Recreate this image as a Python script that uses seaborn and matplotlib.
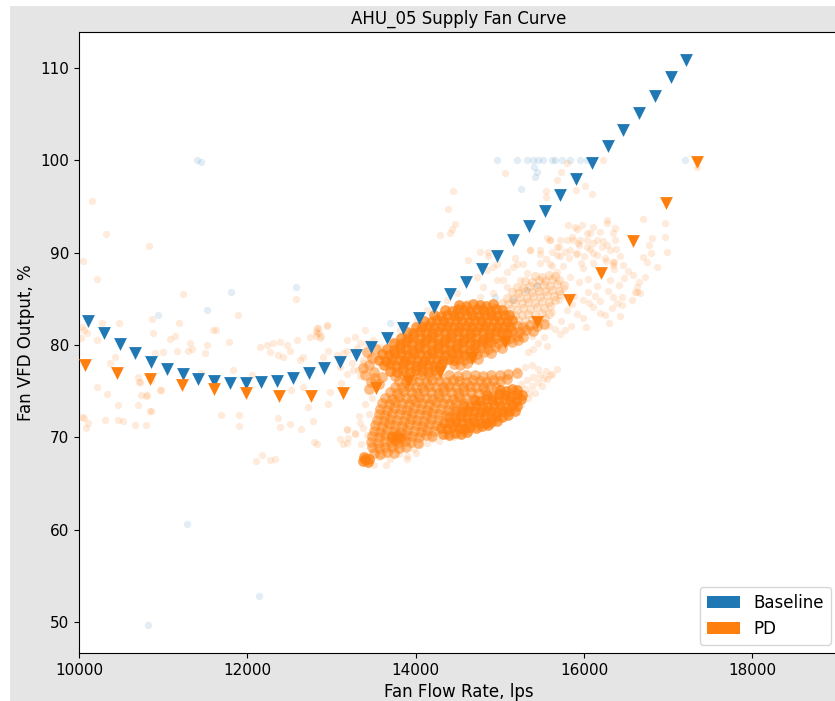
import matplotlib
matplotlib.use("Agg")
import matplotlib.pyplot as plt
from matplotlib.patches import Patch, Rectangle
import pandas as pd
import seaborn as sns

plt.rcParams['font.family'] = ['DejaVu Sans']

BLUE = "#1f77b4"
ORANGE = "#ff7f0e"

# fitted fan curves (triangles)
baseline_curve_flow = [10110, 10297, 10484, 10671, 10858, 11045, 11232, 11419, 11606, 11793,
                       11979, 12166, 12353, 12540, 12727, 12914, 13101, 13288, 13475, 13662,
                       13849, 14036, 14223, 14410, 14597, 14784, 14971, 15158, 15345, 15532,
                       15719, 15906, 16093, 16280, 16467, 16654, 16841, 17028, 17215]
baseline_curve_vfd = [82.63, 81.33, 80.07, 79.10, 78.13, 77.37, 76.86, 76.32, 76.10, 75.85,
                      75.85, 75.99, 76.10, 76.46, 77.00, 77.48, 78.19, 78.92, 79.81, 80.79,
                      81.81, 82.89, 84.15, 85.52, 86.86, 88.20, 89.64, 91.37, 92.92, 94.54,
                      96.25, 97.98, 99.74, 101.6, 103.28, 105.16, 107.0, 108.99, 110.87]
pd_curve_flow = [10071, 10455, 10838, 11222, 11605, 11989, 12372, 12756, 13139, 13523,
                 13906, 14290, 14673, 15057, 15440, 15824, 16200, 16585, 16970, 17345]
pd_curve_vfd = [77.83, 76.93, 76.32, 75.67, 75.20, 74.77, 74.51, 74.51, 74.80, 75.31,
                76.10, 77.11, 78.55, 80.36, 82.46, 84.87, 87.85, 91.30, 95.35, 99.85]

# baseline measured points
baseline_points = [
    (11402, 100.0), (11450, 99.8), (11806, 85.7), (12578, 86.3), (11520, 83.8), (10939, 83.2),
    (11283, 60.6), (12138, 52.8), (10820, 49.7),
    (14962, 100.0), (15207, 100.0), (15318, 100.0), (15397, 100.0), (15457, 100.0), (15516, 100.0),
    (15616, 100.0), (15655, 100.0), (15735, 100.0), (15833, 100.0), (15952, 100.0), (16031, 100.0),
    (17199, 100.0), (15409, 99.3), (15445, 98.7), (15417, 98.2), (15247, 96.9),
    (13695, 82.4), (14487, 83.6), (14740, 83.8), (14942, 85.2), (15160, 84.9), (15318, 86.0), (15437, 86.5),
]

# PD measured points: scattered / light areas
pd_sparse_points = [
    (10154, 95.6), (10321, 92.0), (10048, 89.1), (10214, 87.1), (10832, 90.7), (11235, 85.5), (10867, 82.8),
    (10475, 82.4), (10273, 82.4), (11188, 82.4), (11889, 83.2), (12578, 85.0), (12946, 82.1), (12827, 81.8),
    (10214, 75.4), (10333, 74.7), (10713, 76.0), (10737, 74.6), (10796, 74.5), (10974, 75.1), (10463, 73.5),
    (10701, 73.5), (10855, 72.8), (10059, 72.1), (10107, 71.5), (10083, 71.0), (10309, 71.9), (10463, 71.9),
    (10523, 71.8), (10665, 71.3), (10796, 71.3), (11687, 72.4), (11901, 72.4), (11901, 71.2), (12364, 72.1),
    (12388, 71.1), (12507, 71.4), (12637, 70.9), (12780, 71.8), (12720, 73.3), (12958, 73.6), (12982, 74.9),
    (12519, 75.1), (12661, 75.4), (13113, 75.9), (12792, 69.5), (12827, 69.3), (12103, 67.4), (12174, 68.1),
    (12269, 67.5), (12328, 67.6), (13101, 69.8), (13184, 69.4), (13196, 69.9), (13279, 70.5), (13184, 70.9),
    (11628, 81.6), (11592, 81.6), (10879, 81.3), (10095, 81.3), (10214, 80.5), (11782, 80.3), (11081, 80.7),
    (11140, 81.0), (11319, 80.2), (11342, 79.6), (11520, 80.0), (11497, 79.1), (11295, 79.4), (10998, 79.2),
    (10903, 79.1), (11164, 79.3), (10428, 78.7), (10368, 78.1), (10701, 76.5), (10725, 76.0), (10855, 76.2),
    (10808, 74.6), (10962, 75.1), (10843, 72.9), (10030, 82.0), (10060, 81.6), (10020, 80.8), (10030, 72.2),
    (11830, 77.3), (12050, 76.8), (11450, 77.0),
    (12233, 80.0), (12305, 80.2), (12388, 80.3), (12471, 80.0), (12269, 79.2), (12364, 78.9), (12507, 79.4),
    (12423, 78.7), (12150, 79.8), (12590, 80.5), (12661, 78.7), (12827, 81.3), (12839, 81.8), (12946, 82.2),
    (12744, 80.9), (12625, 78.4), (12899, 78.7), (12958, 79.4), (13065, 78.9), (13137, 79.1), (13184, 79.4),
    (13303, 79.7), (13338, 80.2), (13398, 81.6), (13422, 80.2), (13374, 78.4), (13243, 78.0), (13101, 77.6),
    (13315, 77.3), (12810, 81.0), (12850, 81.3), (12870, 81.0), (12820, 81.5), (12860, 80.8),
    (14443, 96.7), (14384, 94.7), (14467, 93.1), (14431, 92.6), (14407, 92.1), (14289, 91.9), (15061, 98.6),
    (15679, 97.9), (15548, 96.7), (15548, 96.0), (15904, 96.8), (16011, 97.2), (16094, 96.3), (15797, 99.7),
    (15726, 98.7), (16225, 100.0), (17342, 99.3),
    (14625, 89.2), (14764, 90.1), (14863, 90.1), (14962, 88.8), (15081, 87.9), (15200, 88.8), (15279, 88.8),
    (15358, 90.3), (15477, 89.9), (15596, 91.4), (15714, 91.4), (15873, 91.4), (16031, 92.1), (16110, 91.0),
    (14606, 84.6), (14764, 85.2), (14922, 85.6), (14803, 86.3), (14962, 87.0), (15081, 86.3), (15239, 87.0),
    (15318, 87.8), (15160, 88.5), (14843, 88.1), (14724, 87.4), (14487, 85.6), (14368, 84.9), (14131, 83.8),
    (14012, 82.7), (13813, 81.6), (13695, 80.5), (13576, 79.8), (13457, 78.7), (13378, 78.0), (13259, 77.3),
    (13180, 76.9), (13338, 76.6), (13180, 80.5), (13279, 80.9), (13493, 80.5),
    (15556, 91.6), (15180, 89.4), (14922, 88.5), (14863, 89.6), (15041, 87.0), (15596, 88.8), (15714, 89.6),
    (15833, 90.3), (15952, 91.4), (16110, 92.8), (16269, 93.2), (15913, 92.6), (15813, 93.0),
    (16700, 93.6), (16961, 93.2), (16961, 91.7), (16985, 90.1), (16866, 88.4), (16807, 91.6), (16772, 90.8),
    (16700, 89.5), (16795, 90.0), (16748, 89.0), (16724, 87.4), (16653, 86.8), (16629, 85.7), (16665, 85.6),
    (16570, 84.9), (16463, 88.7), (16356, 89.0), (16344, 88.7), (16284, 85.9), (16344, 85.2), (16451, 85.2),
    (16392, 84.5), (16451, 84.3), (16427, 83.1), (16332, 84.0), (16189, 83.5), (16106, 84.1), (16047, 85.7),
    (15988, 84.9), (16605, 85.7), (16629, 86.3), (16273, 93.5), (16368, 92.7), (16344, 92.1), (16368, 91.4),
    (16273, 90.8), (15893, 92.8), (15976, 93.0), (16071, 92.1), (16189, 92.2), (16154, 91.4), (16035, 91.4),
    (15928, 91.0), (15797, 91.4), (15679, 90.6), (15595, 91.4), (15476, 90.3), (15357, 90.3), (15679, 89.8),
    (15774, 90.1), (15916, 90.0), (16035, 90.6), (16106, 90.0), (16213, 90.6), (16308, 90.3), (16249, 89.4),
    (16344, 89.0),
    (15620, 83.6), (15700, 84.9), (15760, 86.2), (15830, 87.4), (15880, 85.3), (15940, 86.8), (15990, 88.3),
    (16050, 87.1), (16110, 88.9), (16150, 86.4), (16200, 87.8), (16260, 89.1), (16310, 87.0), (16360, 88.2),
    (16420, 86.5), (16480, 87.3), (15680, 87.9), (15750, 88.6), (15820, 89.4), (15900, 89.9), (15960, 88.9),
    (15730, 82.6), (15800, 83.8), (15860, 84.4), (15920, 83.4), (15990, 82.9), (16060, 84.6), (16130, 85.3),
    (16190, 84.8), (15580, 82.1), (15650, 81.7), (15710, 81.2), (15520, 80.9), (15450, 80.2), (15380, 81.0),
    (15620, 88.6), (15550, 89.3), (15480, 88.9), (15700, 90.6), (15620, 90.1), (16000, 89.6), (16070, 90.4),
    (16150, 89.8), (15860, 91.7), (15940, 90.8), (16230, 91.3), (16380, 90.4), (16430, 89.6), (16520, 88.0),
    (16580, 87.6), (15770, 81.6), (15850, 82.1), (16020, 81.9), (16250, 83.2), (16300, 82.4), (15400, 79.6),
    (15330, 79.2), (15560, 79.9),
    (13350, 69.3), (13420, 70.2), (13380, 71.0), (13450, 72.5), (13400, 73.6), (13480, 74.3), (13330, 72.3),
    (13560, 67.9), (13620, 68.1), (13700, 67.7), (13800, 68.2), (13900, 68.0), (13980, 68.7), (14050, 69.2),
    (14130, 69.4), (14200, 69.8), (14280, 69.6), (14380, 70.2), (14450, 70.0), (14550, 70.4), (14650, 70.7),
    (14750, 70.9), (14850, 71.5), (14950, 71.9), (15050, 72.3), (15150, 72.9), (15250, 73.5), (15330, 74.3),
    (15420, 74.8), (15500, 75.6), (15560, 76.3), (15620, 76.9), (15680, 77.4), (15450, 77.4), (15380, 77.8),
    (15300, 77.6), (15200, 77.3), (13900, 67.6), (14000, 68.3), (13650, 67.0), (13500, 67.0), (13180, 70.8),
    (13279, 70.4), (13338, 71.5), (13140, 69.3),
    (15250, 75.8), (15320, 76.2), (15400, 76.5), (15480, 76.8), (15550, 77.2), (15300, 75.2), (15380, 75.6),
    (15450, 76.0), (15520, 76.4), (15600, 76.8), (15350, 74.8),
]

# PD measured points: upper band's right extension (moderate density)
pd_halo_points = [
    (15220, 82.7), (15300, 82.6), (15380, 82.8), (15460, 82.7), (15540, 82.9),
    (15180, 83.3), (15260, 83.2), (15340, 83.4), (15420, 83.3), (15500, 83.5), (15580, 83.4),
    (15120, 83.9), (15200, 83.8), (15280, 84.0), (15360, 83.9), (15440, 84.1), (15520, 84.0), (15600, 84.2),
    (15020, 84.5), (15100, 84.4), (15180, 84.6), (15260, 84.5), (15340, 84.7), (15420, 84.6), (15500, 84.8),
    (15580, 84.7), (15660, 84.9),
    (15080, 85.1), (15160, 85.0), (15240, 85.2), (15320, 85.1), (15400, 85.3), (15480, 85.2), (15560, 85.4),
    (15640, 85.3), (15720, 85.5),
    (15140, 85.7), (15220, 85.6), (15300, 85.8), (15380, 85.7), (15460, 85.9), (15540, 85.8), (15620, 86.0), (15700, 85.9),
    (15200, 86.3), (15280, 86.2), (15360, 86.4), (15440, 86.3), (15520, 86.5), (15600, 86.4), (15680, 86.6), (15760, 86.5),
    (15300, 86.9), (15380, 86.8), (15460, 87.0), (15540, 86.9), (15620, 87.1), (15700, 87.0),
    (15420, 87.5), (15500, 87.4), (15580, 87.6), (15660, 87.5),
]

# PD measured points: dense (but not saturated) parts of the two bands
pd_mid_points = [
    (13420, 79.2), (13480, 78.6), (13450, 77.8), (13500, 77.1), (13520, 76.4), (13470, 76.0), (13560, 75.8),
    (13600, 76.5), (13530, 79.6), (13400, 76.8), (13440, 75.2), (13380, 77.5),
    (13500, 68.3), (13580, 68.2), (13660, 68.4), (13740, 68.3),
    (13480, 68.9), (13560, 68.8), (13640, 69.0), (13720, 68.9), (13800, 68.8), (13880, 69.0),
    (13470, 69.5), (13550, 69.4), (13630, 69.6), (13710, 69.5), (13790, 69.4), (13870, 69.6), (13950, 69.5), (14030, 69.4),
    (13480, 70.1), (13560, 70.0), (13640, 70.2), (13720, 70.1), (13800, 70.0), (13880, 70.2), (13960, 70.1),
    (14040, 70.0), (14120, 70.2), (14200, 70.1),
    (13500, 70.7), (13580, 70.6), (13660, 70.8), (13740, 70.7), (13820, 70.6), (13900, 70.8), (13980, 70.7),
    (14060, 70.6), (14140, 70.8), (14220, 70.7),
    (13520, 71.3), (13600, 71.2), (13680, 71.4), (13760, 71.3), (13840, 71.2), (13920, 71.4), (14000, 71.3),
    (14080, 71.2), (14160, 71.4), (14240, 71.3),
    (13540, 71.9), (13620, 71.8), (13700, 72.0), (13780, 71.9), (13860, 71.8), (13940, 72.0), (14020, 71.9),
    (14100, 71.8), (14180, 72.0), (14260, 71.9),
    (13560, 72.5), (13640, 72.4), (13720, 72.6), (13800, 72.5), (13880, 72.4), (13960, 72.6), (14040, 72.5),
    (14120, 72.4), (14200, 72.6), (14280, 72.5), (14360, 72.4),
    (13580, 73.1), (13660, 73.0), (13740, 73.2), (13820, 73.1), (13900, 73.0), (13980, 73.2), (14060, 73.1),
    (14140, 73.0), (14220, 73.2), (14300, 73.1), (14380, 73.0), (14460, 73.2),
    (13600, 73.7), (13680, 73.6), (13760, 73.8), (13840, 73.7), (13920, 73.6), (14000, 73.8), (14080, 73.7),
    (14160, 73.6), (14240, 73.8), (14320, 73.7), (14400, 73.6), (14480, 73.8), (14560, 73.7),
    (13640, 74.3), (13720, 74.2), (13800, 74.4), (13880, 74.3), (13960, 74.2), (14040, 74.4), (14120, 74.3),
    (14200, 74.2), (14280, 74.4), (14360, 74.3), (14440, 74.2), (14520, 74.4), (14600, 74.3), (14680, 74.2),
    (13700, 74.9), (13780, 74.8), (13860, 75.0), (13940, 74.9), (14020, 74.8), (14100, 75.0), (14180, 74.9),
    (14260, 74.8), (14340, 75.0), (14420, 74.9), (14500, 74.8), (14580, 75.0), (14660, 74.9), (14740, 74.8), (14820, 75.0),
    (13760, 75.5), (13840, 75.4), (13920, 75.6), (14000, 75.5), (14080, 75.4), (14160, 75.6), (14240, 75.5),
    (14320, 75.4), (14400, 75.6), (14480, 75.5), (14560, 75.4), (14640, 75.6), (14720, 75.5), (14800, 75.4),
    (14880, 75.6), (14960, 75.5),
    (13800, 76.1), (13880, 76.0), (13960, 76.2), (14040, 76.1), (14120, 76.0), (14200, 76.2), (14280, 76.1),
    (14360, 76.0), (14440, 76.2), (14520, 76.1), (14600, 76.0), (14680, 76.2), (14760, 76.1), (14840, 76.0),
    (14920, 76.2), (15000, 76.1), (15080, 76.3),
    (13760, 76.6), (13860, 76.7), (13960, 76.6), (14060, 76.7), (14160, 76.6), (14260, 76.7),
    (14400, 76.7), (14500, 76.6), (14600, 76.8), (14700, 76.7), (14800, 76.6), (14900, 76.8), (15000, 76.7),
    (15100, 76.9), (15200, 77.0),
    (14450, 77.9), (14530, 77.8), (14610, 78.0),
    (14500, 78.5), (14580, 78.4), (14660, 78.6), (14740, 78.5),
    (14650, 79.1), (14730, 79.0), (14810, 79.2), (14890, 79.1),
    (14780, 79.7), (14860, 79.6), (14940, 79.8), (15020, 79.7),
    (14900, 80.3), (14980, 80.2), (15060, 80.4), (15140, 80.3), (15220, 80.5),
    (15040, 80.9), (15120, 80.8), (15200, 81.0), (15280, 80.9),
    (15150, 81.5), (15230, 81.4), (15310, 81.6), (15390, 81.5),
    (15200, 82.1), (15280, 82.0), (15360, 82.2), (15440, 82.1), (15520, 82.3),
]

# PD measured points: saturated cores of the two bands
pd_core_points = [
    (13700, 77.2), (13780, 77.1), (13850, 77.3), (13930, 77.1), (14000, 77.3), (14080, 77.2), (14150, 77.1), (14230, 77.3),
    (13620, 77.8), (13700, 77.9), (13770, 77.7), (13850, 77.9), (13920, 77.8), (14000, 77.7), (14070, 77.9),
    (14150, 77.8), (14220, 77.7), (14300, 77.9),
    (13570, 78.4), (13650, 78.3), (13720, 78.5), (13800, 78.4), (13870, 78.3), (13950, 78.5), (14020, 78.4),
    (14100, 78.3), (14170, 78.5), (14250, 78.4), (14320, 78.3), (14400, 78.5), (14450, 78.4),
    (13600, 79.0), (13680, 78.9), (13750, 79.1), (13830, 79.0), (13900, 78.9), (13980, 79.1), (14050, 79.0),
    (14130, 78.9), (14200, 79.1), (14280, 79.0), (14350, 78.9), (14430, 79.1), (14500, 79.0), (14580, 78.9),
    (13660, 79.6), (13740, 79.5), (13810, 79.7), (13890, 79.6), (13960, 79.5), (14040, 79.7), (14110, 79.6),
    (14190, 79.5), (14260, 79.7), (14340, 79.6), (14410, 79.5), (14490, 79.7), (14560, 79.6), (14640, 79.5), (14710, 79.7),
    (13740, 80.2), (13810, 80.1), (13890, 80.3), (13960, 80.2), (14040, 80.1), (14110, 80.3), (14190, 80.2),
    (14260, 80.1), (14340, 80.3), (14410, 80.2), (14490, 80.1), (14560, 80.3), (14640, 80.2), (14710, 80.1),
    (14790, 80.3), (14850, 80.2),
    (13820, 80.8), (13900, 80.7), (13970, 80.9), (14050, 80.8), (14120, 80.7), (14200, 80.9), (14270, 80.8),
    (14350, 80.7), (14420, 80.9), (14500, 80.8), (14570, 80.7), (14650, 80.9), (14720, 80.8), (14800, 80.7),
    (14870, 80.9), (14950, 80.8),
    (13900, 81.4), (13970, 81.3), (14050, 81.5), (14120, 81.4), (14200, 81.3), (14270, 81.5), (14350, 81.4),
    (14420, 81.3), (14500, 81.5), (14570, 81.4), (14650, 81.3), (14720, 81.5), (14800, 81.4), (14870, 81.3),
    (14950, 81.5), (15020, 81.4), (15080, 81.3),
    (14000, 82.0), (14070, 81.9), (14150, 82.1), (14220, 82.0), (14300, 81.9), (14370, 82.1), (14450, 82.0),
    (14520, 81.9), (14600, 82.1), (14670, 82.0), (14750, 81.9), (14820, 82.1), (14900, 82.0), (14970, 81.9),
    (15050, 82.1), (15120, 82.0),
    (14100, 82.6), (14180, 82.5), (14250, 82.7), (14330, 82.6), (14400, 82.5), (14480, 82.7), (14550, 82.6),
    (14630, 82.5), (14700, 82.7), (14780, 82.6), (14850, 82.5), (14930, 82.7), (15000, 82.6), (15080, 82.5), (15140, 82.7),
    (14220, 83.2), (14300, 83.1), (14370, 83.3), (14450, 83.2), (14520, 83.1), (14600, 83.3), (14670, 83.2),
    (14750, 83.1), (14820, 83.3), (14900, 83.2), (14970, 83.1), (15050, 83.3), (15110, 83.2),
    (14350, 83.8), (14430, 83.7), (14500, 83.9), (14580, 83.8), (14650, 83.7), (14730, 83.9), (14800, 83.8),
    (14880, 83.7), (14950, 83.9), (15030, 83.8),
    (14520, 84.3), (14600, 84.2), (14680, 84.4), (14760, 84.3), (14840, 84.2), (14920, 84.4),
    (14330, 70.4), (14400, 70.3), (14470, 70.5), (14540, 70.4), (14610, 70.6),
    (14300, 71.0), (14370, 70.9), (14440, 71.1), (14510, 71.0), (14580, 70.9), (14650, 71.1), (14720, 71.0),
    (14790, 71.2), (14860, 71.3),
    (14340, 71.6), (14410, 71.5), (14480, 71.7), (14550, 71.6), (14620, 71.5), (14690, 71.7), (14760, 71.6),
    (14830, 71.5), (14900, 71.7), (14970, 71.8),
    (14400, 72.2), (14470, 72.1), (14540, 72.3), (14610, 72.2), (14680, 72.1), (14750, 72.3), (14820, 72.2),
    (14890, 72.1), (14960, 72.3), (15030, 72.2), (15100, 72.4),
    (14480, 72.8), (14550, 72.7), (14620, 72.9), (14690, 72.8), (14760, 72.7), (14830, 72.9), (14900, 72.8),
    (14970, 72.7), (15040, 72.9), (15110, 72.8), (15180, 72.9),
    (14580, 73.4), (14650, 73.3), (14720, 73.5), (14790, 73.4), (14860, 73.3), (14930, 73.5), (15000, 73.4),
    (15070, 73.3), (15140, 73.5), (15210, 73.4),
    (14700, 74.0), (14770, 73.9), (14840, 74.1), (14910, 74.0), (14980, 73.9), (15050, 74.1), (15120, 74.0),
    (15190, 73.9), (15250, 74.1),
    (14850, 74.6), (14920, 74.5), (14990, 74.7), (15060, 74.6), (15130, 74.5), (15200, 74.7), (15260, 74.6),
    (15000, 75.1), (15070, 75.0), (15140, 75.2), (15210, 75.1),
    (13370, 67.4), (13400, 67.6), (13430, 67.3), (13390, 67.9), (13450, 67.7),
    (13720, 70.0), (13780, 70.3), (13830, 69.9), (13760, 69.7),
]


def frame(points):
    return pd.DataFrame(points, columns=["flow", "vfd"])


fig = plt.figure(figsize=(8.35, 7.01), dpi=100)
fig.patch.set_facecolor("white")
fig.add_artist(Rectangle((10 / 835, 0), 1 - 10 / 835, 1 - 6 / 701, transform=fig.transFigure,
                         facecolor="#e5e5e5", edgecolor="none", zorder=-10))
ax = fig.add_axes([79 / 835, 48 / 701, 760 / 835, 621 / 701])
ax.set_facecolor("white")

sns.scatterplot(data=frame(baseline_points), x="flow", y="vfd", color=BLUE, alpha=0.13,
                s=28, linewidth=0, ax=ax, legend=False)
sns.scatterplot(data=frame(pd_sparse_points), x="flow", y="vfd", color=ORANGE, alpha=0.15,
                s=28, linewidth=0, ax=ax, legend=False)
sns.scatterplot(data=frame(pd_halo_points), x="flow", y="vfd", color=ORANGE, alpha=0.2,
                s=44, linewidth=0, ax=ax, legend=False)
sns.scatterplot(data=frame(pd_mid_points), x="flow", y="vfd", color=ORANGE, alpha=0.5,
                s=60, linewidth=0, ax=ax, legend=False)
sns.scatterplot(data=frame(pd_core_points), x="flow", y="vfd", color=ORANGE, alpha=0.72,
                s=60, linewidth=0, ax=ax, legend=False)

sns.scatterplot(x=baseline_curve_flow, y=baseline_curve_vfd, marker="v", s=85, color=BLUE,
                linewidth=0, ax=ax, legend=False, zorder=5)
sns.scatterplot(x=pd_curve_flow, y=pd_curve_vfd, marker="v", s=85, color=ORANGE,
                linewidth=0, ax=ax, legend=False, zorder=5)

ax.set_xlim(10000, 19030)
ax.set_ylim(46.64, 113.9)
ax.set_xticks([10000, 12000, 14000, 16000, 18000])
ax.set_yticks([50, 60, 70, 80, 90, 100, 110])
ax.tick_params(labelsize=11)
ax.set_xlabel("Fan Flow Rate, lps", fontsize=12)
ax.set_ylabel("Fan VFD Output, %", fontsize=12)
ax.set_title("AHU_05 Supply Fan Curve", fontsize=12)

ax.legend(handles=[Patch(facecolor=BLUE, label="Baseline"), Patch(facecolor=ORANGE, label="PD")],
          loc="lower right", fontsize=12)

fig.savefig("out.png", dpi=100)
